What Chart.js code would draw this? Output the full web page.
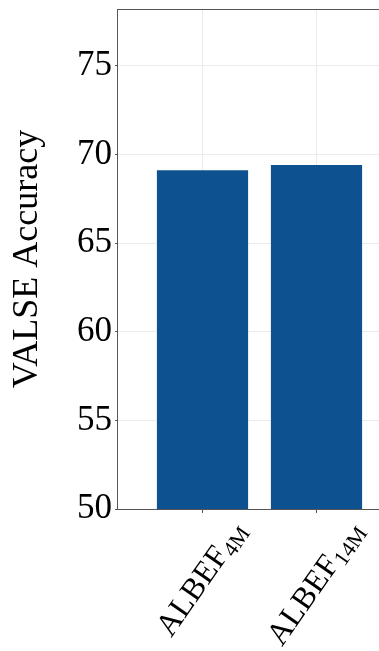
<!DOCTYPE html>
<html>
<head>
<meta charset="utf-8">
<script src="https://cdn.jsdelivr.net/npm/chart.js@4.4.1/dist/chart.umd.min.js"></script>
<style>
  html, body { margin: 0; padding: 0; background: #fff; overflow: hidden; width: 379px; height: 651px; }
  canvas { display: block; }
</style>
</head>
<body>
<canvas id="chart" width="410" height="651"></canvas>
<script>
// Models, their pre-training corpus size (shown as subscript) and VALSE accuracy
const models = ['ALBEF', 'ALBEF'];
const pretrainSizes = ['4M', '14M'];
const valseAccuracy = [69.1, 69.4];
const yTickValues = [50, 55, 60, 65, 70, 75];

const SERIF = '"Liberation Serif", "Times New Roman", Tinos, serif';
const AXIS_COLOR = '#555555';
const GRID_COLOR = '#ebebeb';

// Category labels with a subscript, rotated and centred under each tick
const subscriptTicks = {
  id: 'subscriptTicks',
  afterDraw(chart) {
    const ctx = chart.ctx;
    const xs = chart.scales.x;
    const f = 32, fs = 22;
    const theta = 55 * Math.PI / 180;
    const c = Math.cos(theta), s = Math.sin(theta);
    const top = chart.chartArea.bottom + 9;
    models.forEach((name, i) => {
      ctx.save();
      ctx.font = f + 'px ' + SERIF;
      const wMain = ctx.measureText(name).width;
      ctx.font = fs + 'px ' + SERIF;
      const wSub = ctx.measureText(pretrainSizes[i]).width;
      const L = wMain + wSub;
      const a = 0.66 * f, d = 0.16 * f;
      const tx = xs.getPixelForValue(i);
      const ox = tx - (L * c + d * s - a * s) / 2;
      const oy = top + L * s + a * c;
      ctx.translate(ox, oy);
      ctx.rotate(-theta);
      ctx.fillStyle = '#000';
      ctx.textAlign = 'left';
      ctx.textBaseline = 'alphabetic';
      ctx.font = f + 'px ' + SERIF;
      ctx.fillText(name, 0, 0);
      ctx.font = fs + 'px ' + SERIF;
      ctx.fillText(pretrainSizes[i], wMain, d);
      ctx.restore();
    });
  }
};

// Frame line along the top of the plot area
const topFrame = {
  id: 'topFrame',
  afterDraw(chart) {
    const { ctx, chartArea } = chart;
    ctx.save();
    ctx.strokeStyle = AXIS_COLOR;
    ctx.lineWidth = 1;
    ctx.beginPath();
    ctx.moveTo(chartArea.left, chartArea.top + 0.5);
    ctx.lineTo(chartArea.right, chartArea.top + 0.5);
    ctx.stroke();
    ctx.restore();
  }
};

function draw() {
  new Chart(document.getElementById('chart'), {
    type: 'bar',
    data: {
      datasets: [{
        data: valseAccuracy.map((v, i) => ({ x: i, y: v })),
        backgroundColor: '#0e5191',
        borderWidth: 0,
        barPercentage: 0.8,
        categoryPercentage: 1.0
      }]
    },
    options: {
      responsive: false,
      animation: false,
      devicePixelRatio: 1,
      layout: { padding: { top: 9, right: 8, bottom: 0, left: 0 } },
      plugins: { legend: { display: false }, tooltip: { enabled: false } },
      scales: {
        x: {
          type: 'linear',
          min: -0.75,
          max: 1.75,
          offset: false,
          afterBuildTicks(scale) { scale.ticks = models.map((_, i) => ({ value: i })); },
          afterFit(scale) {
            scale.height = 142;
            scale.paddingLeft = 0;
            scale.paddingRight = 0;
          },
          ticks: { display: false },
          grid: { offset: false, color: GRID_COLOR, tickColor: AXIS_COLOR, tickLength: 4, lineWidth: 1 },
          border: { color: AXIS_COLOR, width: 1 }
        },
        y: {
          min: 50,
          max: 78.2,
          afterBuildTicks(scale) { scale.ticks = yTickValues.map(v => ({ value: v })); },
          afterFit(scale) {
            scale.width = 117;
            scale.paddingTop = 0;
            scale.paddingBottom = 0;
          },
          ticks: {
            color: '#000',
            padding: 3,
            font: { family: SERIF, size: 35 }
          },
          grid: { color: GRID_COLOR, tickColor: AXIS_COLOR, tickLength: 2, lineWidth: 1 },
          border: { color: AXIS_COLOR, width: 1 },
          title: {
            display: true,
            text: 'VALSE Accuracy',
            color: '#000',
            font: { family: SERIF, size: 36 },
            padding: { top: 6, bottom: 0 }
          }
        }
      }
    },
    plugins: [subscriptTicks, topFrame]
  });
}

// Make sure the serif face is ready before the canvas text is drawn
Promise.all([
  document.fonts.load('35px "Liberation Serif"'),
  document.fonts.load('22px "Liberation Serif"')
]).then(draw, draw);
</script>
</body>
</html>
